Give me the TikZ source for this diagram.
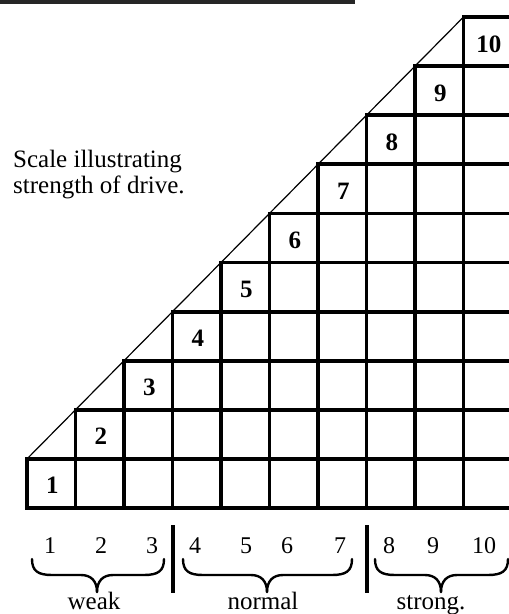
\documentclass[tikz,border=0pt]{standalone}
\usepackage{fontspec}
\setmainfont{Liberation Serif}
\newcommand\mybrace[5]{% x1 x2 xmid ytop ytip
  \draw[bracestyle] (#1,#4) .. controls (#1,#4+12) and (#1+6,#4+16) .. (#1+20,#4+16)
    -- (#3-16,#4+16) .. controls (#3-6,#4+16) and (#3,#4+22) .. (#3,#5);
  \draw[bracestyle] (#2,#4) .. controls (#2,#4+12) and (#2-6,#4+16) .. (#2-20,#4+16)
    -- (#3+16,#4+16) .. controls (#3+6,#4+16) and (#3,#4+22) .. (#3,#5);
}
\begin{document}
\begin{tikzpicture}[x=1pt,y=-1pt,
  gridline/.style={line width=3.8pt,line cap=rect},
  diag/.style={line width=1.2pt},
  celltext/.style={font=\fontsize{25}{27}\selectfont\bfseries,inner sep=0pt,anchor=base},
  scaletext/.style={font=\fontsize{24}{26}\selectfont,inner sep=0pt,anchor=base},
  labeltext/.style={font=\fontsize{25}{27}\selectfont,inner sep=0pt,anchor=base},
  captext/.style={font=\fontsize{25}{27}\selectfont,inner sep=0pt,anchor=base west},
  sepline/.style={line width=3.8pt},
  bracestyle/.style={line width=2.4pt,line cap=round}]
\useasboundingbox (0,0) rectangle (509,614);
\fill[white] (0,0) rectangle (509,614);
% top rule
\draw[line width=3.6pt,black!85] (0,2) -- (355,2);
% grid
\foreach \i in {1,...,10}{
  \pgfmathsetmacro\xl{27+(\i-1)*48.5}
  \pgfmathsetmacro\xr{27+\i*48.5}
  \pgfmathsetmacro\yt{508-\i*49.1}
  \draw[gridline] (\xl,508) rectangle (\xr,\yt);
  \foreach \j in {1,...,\i}{
    \pgfmathsetmacro\yy{508-\j*49.1}
    \draw[gridline] (\xl,\yy) -- (\xr,\yy);
  }
  \node[celltext] (c\i) at ({27+(\i-0.5)*48.5+1},{508-(\i-0.5)*49.1+10.5}) {\i};
}
% diagonal
\coordinate (d0) at (27,458.9);
\coordinate (d1) at (463.5,17);
\draw[diag] (d0) -- (d1);
% caption
\node[captext] (cap1) at (13,167) {Scale illustrating};
\node[captext] (cap2) at (13,193) {strength of drive.};
% scale numbers
\foreach \n/\x in {1/50,2/101,3/152,4/195,5/246,6/287,7/340,8/389,9/433,10/484}{
  \node[scaletext] (s\n) at (\x,553) {\n};
}
% separators
\coordinate (sa1) at (173,525); \coordinate (sa2) at (173,593);
\coordinate (sb1) at (367,525); \coordinate (sb2) at (367,593);
\draw[sepline] (sa1) -- (sa2);
\draw[sepline] (sb1) -- (sb2);
% braces
\mybrace{32}{164}{97}{559}{592}
\mybrace{183}{352}{267}{559}{592}
\mybrace{375}{508}{441}{559}{592}
% labels
\node[labeltext] (weak) at (94,609) {weak};
\node[labeltext] (normal) at (263,609) {normal};
\node[labeltext] (strong) at (431,609) {strong.};
\end{tikzpicture}
\end{document}
